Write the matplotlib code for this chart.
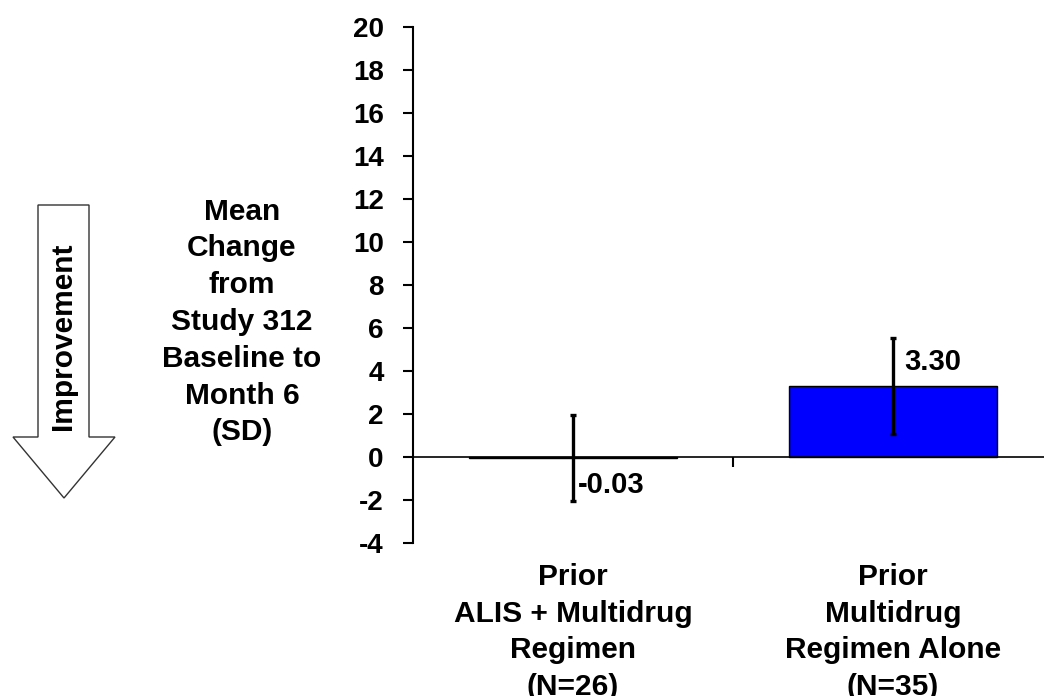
import matplotlib
matplotlib.use("Agg")
import matplotlib.pyplot as plt
from matplotlib.patches import Polygon

# Data
categories = ["Prior\nALIS + Multidrug\nRegimen\n(N=26)",
              "Prior\nMultidrug\nRegimen Alone\n(N=35)"]
means = [-0.03, 3.30]
sds = [2.00, 2.25]
value_labels = ["-0.03", "3.30"]
yticks = list(range(-4, 21, 2))

plt.rcParams["font.family"] = ["Liberation Sans", "DejaVu Sans"]
plt.rcParams["font.weight"] = "bold"

W, H = 1044, 696
fig = plt.figure(figsize=(W / 100, H / 100), dpi=100)
ax = fig.add_axes([413 / W, 153 / H, 640 / W, 516 / H])

x = list(range(len(categories)))
ax.bar(x, means, width=0.65, color="#0000FF", edgecolor="black", linewidth=1.0, zorder=2)
ax.errorbar(x, means, yerr=sds, fmt="none", ecolor="black", elinewidth=2.4,
            capsize=2.4, capthick=2.4, zorder=3)

# Value labels beside the error bars
ax.text(x[0] + 0.015, -1.3, value_labels[0], ha="left", va="center",
        fontsize=21, fontweight="bold")
ax.text(x[1] + 0.034, 4.4, value_labels[1], ha="left", va="center",
        fontsize=21, fontweight="bold")

ax.set_xlim(-0.5, 1.5)
ax.set_ylim(-4, 20)
ax.set_yticks(yticks)
ax.set_yticklabels([str(t) for t in yticks], fontsize=20, fontweight="bold")
ax.tick_params(axis="y", direction="out", length=7, width=1.5, pad=14)

for side in ("top", "right"):
    ax.spines[side].set_visible(False)
ax.spines["left"].set_linewidth(1.5)
ax.spines["bottom"].set_position(("data", 0))
ax.spines["bottom"].set_linewidth(1.2)
ax.set_xticks([0.5])
ax.set_xticklabels([""])
ax.tick_params(axis="x", direction="out", length=7, width=1.5)

# Category labels below the plot
for xi, lab in zip(x, categories):
    ax.annotate(lab, xy=(xi, 0), xycoords=("data", "figure fraction"),
                xytext=(0, (H - 632) * 0.72), textcoords="offset points",
                ha="center", va="center", fontsize=21.5, fontweight="bold",
                linespacing=1.4, annotation_clip=False)

# Y-axis title
fig.text(242 / W, 1 - 322 / H,
         "Mean\nChange\nfrom\nStudy 312\nBaseline to\nMonth 6\n(SD)",
         ha="center", va="center", fontsize=21.5, fontweight="bold",
         linespacing=1.4)

# Hollow downward arrow with label
pts = [(38, 205), (89, 205), (89, 437), (115, 437), (64, 498),
       (13, 437), (38, 437)]
arrow = Polygon([(px / W, 1 - py / H) for px, py in pts], closed=True,
                facecolor="white", edgecolor="#333333", linewidth=1.0,
                transform=fig.transFigure)
fig.patches.append(arrow)
fig.text(63 / W, 1 - 336 / H, "Improvement", rotation=90, ha="center",
         va="center", fontsize=21.5, fontweight="bold")

fig.savefig("out.png", dpi=100)
